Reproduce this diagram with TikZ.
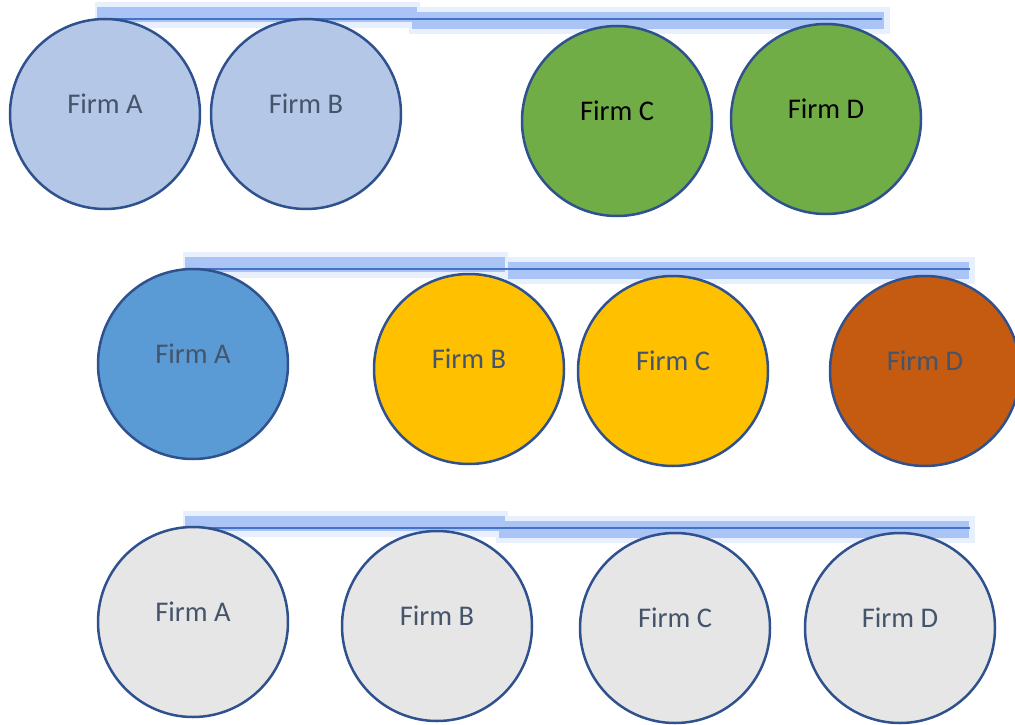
\documentclass[tikz,border=0pt]{standalone}
\usepackage{fontspec}
\setmainfont{Carlito}
\definecolor{rimblue}{HTML}{2F528F}
\definecolor{paleblue}{HTML}{B4C7E7}
\definecolor{leafgreen}{HTML}{70AD47}
\definecolor{skyblue}{HTML}{5B9BD5}
\definecolor{goldfill}{HTML}{FFC000}
\definecolor{rustfill}{HTML}{C55A11}
\definecolor{greyfill}{HTML}{E7E6E6}
\definecolor{slatetext}{HTML}{44546A}
\definecolor{glowout}{HTML}{E8F0FD}
\definecolor{glowin}{HTML}{A9C4F5}
\definecolor{linkblue}{HTML}{4472C4}

\begin{document}
\begin{tikzpicture}[x=1pt,y=-1pt]
          \tikzset{firm/.style={circle,draw=rimblue,line width=2.5pt,minimum size=190pt,inner sep=0pt,
                     text=slatetext,text depth=20pt,font=\fontsize{28.5}{32}\selectfont},
                   glowouter/.style={fill=glowout},
                   glowinner/.style={fill=glowin},
                   rowline/.style={draw=linkblue,line width=1.2pt}}
          \useasboundingbox (0,0) rectangle (1015,725);
          % highlighted lines above each row
          % {line y / start / left end / right start / right end / line end}
          \foreach \ly/\xs/\xl/\xr/\xe/\xf in {19/97/420/409/890/882, 269/185/508/505/975/970, 528/185/508/496/975/970}{
            \fill[glowouter] (\xs-2,\ly-17) rectangle (\xl,\ly+9);
            \fill[glowouter] (\xr,\ly-12) rectangle (\xe,\ly+15);
            \fill[glowinner] (\xs,\ly-12) rectangle (\xl-3,\ly+3);
            \fill[glowinner] (\xr+3,\ly-7) rectangle (\xe-6,\ly+10);
            \coordinate (L\ly) at (\xs,\ly);
            \coordinate (R\ly) at (\xf,\ly);
            \draw[rowline] (L\ly) -- (R\ly);
          }
          % row one
          \node[firm,fill=paleblue] (a1) at (105,114) {Firm A};
          \node[firm,fill=paleblue] (b1) at (306,114) {Firm B};
          \node[firm,fill=leafgreen,text=black] (c1) at (617,121) {Firm C};
          \node[firm,fill=leafgreen,text=black] (d1) at (826,119) {Firm D};
          % row two
          \node[firm,fill=skyblue] (a2) at (193,364) {Firm A};
          \node[firm,fill=goldfill] (b2) at (469,369) {Firm B};
          \node[firm,fill=goldfill] (c2) at (673,371) {Firm C};
          \node[firm,fill=rustfill] (d2) at (925,371) {Firm D};
          % row three
          \node[firm,fill=greyfill] (a3) at (193,622) {Firm A};
          \node[firm,fill=greyfill] (b3) at (437,626) {Firm B};
          \node[firm,fill=greyfill] (c3) at (675,628) {Firm C};
          \node[firm,fill=greyfill] (d3) at (900,628) {Firm D};
        \end{tikzpicture}
\end{document}
